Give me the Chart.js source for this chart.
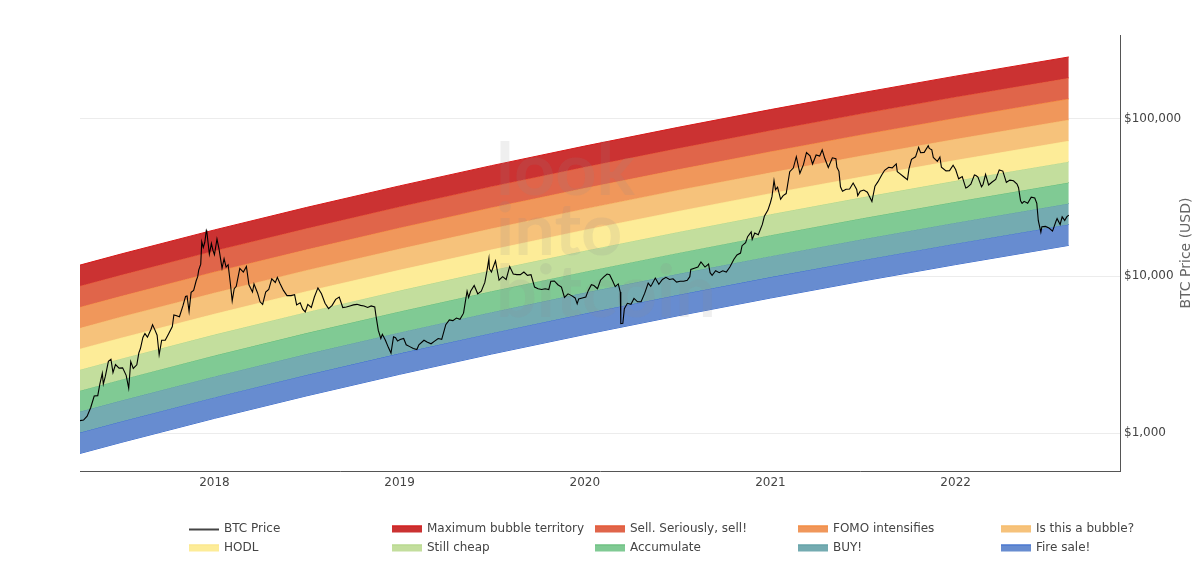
<!DOCTYPE html>
<html>
<head>
<meta charset="utf-8">
<script src="https://cdn.jsdelivr.net/npm/chart.js@4.4.1/dist/chart.umd.min.js"></script>
<style>
html,body{margin:0;padding:0;background:#fff;}
#wrap{width:1200px;height:575px;position:relative;}
</style>
</head>
<body>
<div id="wrap"><canvas id="c" width="1200" height="575"></canvas></div>
<script>
// ---------- data ----------
const bandDates = ['2017-04-11','2017-07-01','2018-01-01','2018-07-01','2019-01-01','2019-07-01','2020-01-01','2020-07-01','2021-01-01','2021-07-01','2022-01-01','2022-08-12'];

const bandLabels = ['Maximum bubble territory','Sell. Seriously, sell!','FOMO intensifies','Is this a bubble?','HODL','Still cheap','Accumulate','BUY!','Fire sale!'];

// upper edge of each band (USD)
const bandMaxBubble  = [11738, 13806, 19656, 27306, 37491, 50436, 67236, 88226, 114762, 147086, 187429, 248337];
const bandSell       = [8635, 10156, 14460, 20087, 27580, 37103, 49461, 64902, 84424, 108202, 137880, 182688];
const bandFomo       = [6352, 7471, 10637, 14777, 20289, 27294, 36386, 47745, 62106, 79599, 101431, 134393];
const bandBubble     = [4673, 5496, 7825, 10871, 14925, 20079, 26767, 35123, 45688, 58556, 74617, 98865];
const bandHodl       = [3438, 4043, 5757, 7997, 10980, 14771, 19691, 25838, 33610, 43076, 54891, 72729];
const bandCheap      = [2529, 2974, 4235, 5883, 8077, 10866, 14485, 19008, 24725, 31689, 40380, 53503];
const bandAccumulate = [1860, 2188, 3115, 4328, 5942, 7994, 10656, 13983, 18189, 23312, 29706, 39359];
const bandBuy        = [1369, 1610, 2292, 3184, 4371, 5880, 7839, 10286, 13380, 17149, 21853, 28954];
const bandFireSale   = [1007, 1184, 1686, 2342, 3216, 4326, 5767, 7567, 9843, 12615, 16076, 21300];
// lower edge of "Fire sale!"
const bandFloor      = [741, 871, 1240, 1723, 2366, 3182, 4242, 5567, 7241, 9281, 11826, 15669];

const priceDates = [
'2017-04-11','2017-04-18','2017-04-25','2017-05-02','2017-05-09','2017-05-16','2017-05-20','2017-05-25','2017-05-27','2017-05-31',
'2017-06-06','2017-06-11','2017-06-15','2017-06-20','2017-06-27','2017-07-04','2017-07-11','2017-07-16','2017-07-20','2017-07-25',
'2017-08-01','2017-08-05','2017-08-08','2017-08-13','2017-08-17','2017-08-22','2017-08-29','2017-09-01','2017-09-05','2017-09-10',
'2017-09-14','2017-09-19','2017-09-26','2017-10-03','2017-10-10','2017-10-13','2017-10-17','2017-10-24','2017-10-31','2017-11-05',
'2017-11-08','2017-11-12','2017-11-16','2017-11-21','2017-11-26','2017-11-29','2017-12-01','2017-12-05','2017-12-07','2017-12-10',
'2017-12-13','2017-12-16','2017-12-17','2017-12-22','2017-12-26','2017-12-29','2018-01-01','2018-01-06','2018-01-10','2018-01-16',
'2018-01-20','2018-01-24','2018-01-28','2018-02-01','2018-02-05','2018-02-09','2018-02-13','2018-02-20','2018-02-27','2018-03-05',
'2018-03-10','2018-03-17','2018-03-20','2018-03-27','2018-04-01','2018-04-06','2018-04-12','2018-04-18','2018-04-24','2018-05-01',
'2018-05-05','2018-05-10','2018-05-17','2018-05-24','2018-06-01','2018-06-08','2018-06-12','2018-06-19','2018-06-24','2018-06-29',
'2018-07-04','2018-07-11','2018-07-17','2018-07-24','2018-07-31','2018-08-07','2018-08-14','2018-08-21','2018-08-28','2018-09-04',
'2018-09-11','2018-09-18','2018-09-25','2018-10-02','2018-10-09','2018-10-16','2018-10-23','2018-10-30','2018-11-06','2018-11-13',
'2018-11-15','2018-11-20','2018-11-25','2018-11-28','2018-12-04','2018-12-10','2018-12-15','2018-12-20','2018-12-24','2018-12-28',
'2019-01-02','2019-01-09','2019-01-14','2019-01-21','2019-01-28','2019-02-04','2019-02-08','2019-02-18','2019-02-24','2019-03-04',
'2019-03-11','2019-03-18','2019-03-25','2019-04-02','2019-04-09','2019-04-16','2019-04-23','2019-04-30','2019-05-07','2019-05-11',
'2019-05-14','2019-05-17','2019-05-21','2019-05-28','2019-06-04','2019-06-11','2019-06-18','2019-06-22','2019-06-26','2019-06-27',
'2019-07-01','2019-07-09','2019-07-16','2019-07-23','2019-07-30','2019-08-06','2019-08-13','2019-08-20','2019-08-27','2019-09-03',
'2019-09-10','2019-09-17','2019-09-24','2019-10-01','2019-10-08','2019-10-15','2019-10-22','2019-10-26','2019-11-02','2019-11-09',
'2019-11-16','2019-11-22','2019-11-29','2019-12-06','2019-12-13','2019-12-17','2019-12-20','2019-12-27','2020-01-03','2020-01-08',
'2020-01-14','2020-01-19','2020-01-26','2020-02-01','2020-02-08','2020-02-14','2020-02-19','2020-02-25','2020-03-01','2020-03-07',
'2020-03-11','2020-03-12','2020-03-16','2020-03-19','2020-03-25','2020-04-01','2020-04-07','2020-04-14','2020-04-21','2020-04-28',
'2020-05-05','2020-05-10','2020-05-12','2020-05-19','2020-05-26','2020-06-02','2020-06-09','2020-06-16','2020-06-23','2020-06-30',
'2020-07-07','2020-07-14','2020-07-21','2020-07-26','2020-07-28','2020-08-04','2020-08-11','2020-08-17','2020-08-25','2020-09-01',
'2020-09-04','2020-09-08','2020-09-15','2020-09-22','2020-09-29','2020-10-06','2020-10-13','2020-10-21','2020-10-27','2020-11-03',
'2020-11-06','2020-11-13','2020-11-17','2020-11-24','2020-11-26','2020-12-01','2020-12-08','2020-12-16','2020-12-20','2020-12-27',
'2021-01-01','2021-01-04','2021-01-08','2021-01-11','2021-01-15','2021-01-21','2021-01-26','2021-02-01','2021-02-08','2021-02-15',
'2021-02-21','2021-02-28','2021-03-07','2021-03-13','2021-03-20','2021-03-25','2021-04-01','2021-04-08','2021-04-13','2021-04-18',
'2021-04-25','2021-05-03','2021-05-10','2021-05-12','2021-05-16','2021-05-19','2021-05-23','2021-05-30','2021-06-06','2021-06-13',
'2021-06-20','2021-06-22','2021-06-27','2021-07-04','2021-07-11','2021-07-20','2021-07-26','2021-08-01','2021-08-08','2021-08-14',
'2021-08-22','2021-08-29','2021-09-06','2021-09-08','2021-09-13','2021-09-20','2021-09-28','2021-10-01','2021-10-06','2021-10-14',
'2021-10-20','2021-10-24','2021-10-31','2021-11-08','2021-11-10','2021-11-15','2021-11-18','2021-11-26','2021-12-01','2021-12-04',
'2021-12-13','2021-12-20','2021-12-27','2022-01-01','2022-01-07','2022-01-14','2022-01-21','2022-01-24','2022-01-31','2022-02-07',
'2022-02-10','2022-02-14','2022-02-21','2022-02-24','2022-03-01','2022-03-07','2022-03-14','2022-03-21','2022-03-28','2022-04-04',
'2022-04-11','2022-04-18','2022-04-25','2022-05-02','2022-05-05','2022-05-09','2022-05-12','2022-05-16','2022-05-23','2022-05-30',
'2022-06-06','2022-06-10','2022-06-13','2022-06-18','2022-06-20','2022-06-27','2022-07-04','2022-07-11','2022-07-18','2022-07-20',
'2022-07-26','2022-07-30','2022-08-04','2022-08-08','2022-08-12'
];
const priceValues = [
1200,1210,1280,1450,1720,1730,2040,2400,2050,2300,
2860,2950,2430,2730,2590,2600,2330,1930,2850,2580,
2720,3240,3440,4060,4300,4080,4580,4900,4590,4200,
3150,3900,3900,4310,4760,5650,5600,5500,6470,7400,
7450,5950,7870,8100,9330,9900,10900,11900,16500,15200,
16400,19500,19140,13800,16100,14600,13650,17200,14900,11200,
12900,11400,11800,9200,6950,8300,8600,11200,10600,11500,
8800,7900,8900,7800,6850,6600,7900,8200,9600,9100,
9800,9000,8100,7500,7500,7600,6550,6750,6150,5900,
6600,6300,7350,8400,7700,6700,6200,6500,7100,7350,
6300,6350,6450,6550,6600,6500,6450,6300,6450,6350,
5700,4500,4000,4250,3900,3500,3230,4100,4050,3850,
3940,4000,3650,3550,3450,3400,3650,3900,3800,3700,
3850,4000,3950,4900,5250,5200,5400,5300,5800,7000,
8000,7300,8000,8700,7700,8000,9100,10700,12900,11100,
10600,12500,9400,9900,9500,11500,10300,10200,10200,10600,
10100,10200,8500,8300,8200,8300,8200,9250,9300,8800,
8500,7300,7700,7500,7250,6650,7150,7250,7350,8100,
8800,8700,8300,9400,9900,10300,10200,9300,8550,8900,
7900,4970,5000,6200,6700,6600,7200,6850,6850,7750,
9000,8600,8800,9700,8850,9500,9800,9500,9600,9150,
9250,9250,9400,9900,11000,11200,11400,12300,11400,11900,
10500,10100,10800,10500,10800,10600,11400,12800,13600,14000,
15600,16300,17800,19100,17100,18800,18300,21300,24000,26300,
29400,32000,40600,35500,36800,30800,32500,33500,46200,48700,
57500,45100,51200,61200,58300,51700,59000,58000,63500,56200,
49100,56600,55800,49200,46400,37000,34700,35700,35800,39100,
35600,32500,34700,35300,34200,29800,37300,39900,43800,47100,
49300,48800,51800,46100,44900,43000,41000,48100,55400,57400,
66000,61000,61300,67500,64900,63600,56900,53700,57200,49300,
46700,46900,50700,47700,41600,43000,36300,36700,38500,44000,
43600,42600,37000,38300,44400,38000,39700,41200,47400,46600,
39500,40800,40400,38500,36500,30100,29000,29900,29100,31800,
31400,29000,22500,19000,20600,20700,20200,19300,22400,23200,
21300,23800,22600,23800,24400
];

const yTickValues = [1000, 10000, 100000];
const xTickYears = [2018, 2019, 2020, 2021, 2022];
const xRange = ['2017-04-11', '2022-11-21'];
const yRange = [573, 342700];

// ---------- styles ----------
const bandFill = ['#CB3232','#E0654A','#F0975B','#F6C27B','#FDEC98','#C3DE9D','#80CA94','#74ABB1','#678CD0'];
const bandEdge = ['#D81818','#E8552F','#F68A3A','#F7BC68','#FCE68A','#B4D88A','#66BE7A','#5E9FA6','#3F6FCF'];
const floorEdge = '#3A6ACC';
const FONT = "'DejaVu Sans', Verdana, sans-serif";
const TEXT = '#444';

// ---------- helpers ----------
const toTs = s => { const p = s.split('-').map(Number); return Date.UTC(p[0], p[1] - 1, p[2]); };
const pts = (dates, vals) => dates.map((d, i) => ({ x: toTs(d), y: vals[i] }));

const bandTops = [bandMaxBubble, bandSell, bandFomo, bandBubble, bandHodl, bandCheap, bandAccumulate, bandBuy, bandFireSale];

const datasets = [{
  label: 'BTC Price', data: pts(priceDates, priceValues),
  borderColor: '#000', borderWidth: 1.1, pointRadius: 0, fill: false, tension: 0,
  legendKind: 'line', legendColor: '#444'
}];
bandTops.forEach((vals, i) => datasets.push({
  label: bandLabels[i], data: pts(bandDates, vals),
  borderColor: bandEdge[i], backgroundColor: bandFill[i], borderWidth: 1,
  pointRadius: 0, fill: '+1', tension: 0, legendKind: 'box'
}));
datasets.push({
  label: '_floor', data: pts(bandDates, bandFloor),
  borderColor: floorEdge, borderWidth: 1, pointRadius: 0, fill: false, tension: 0
});

// ---------- custom drawing ----------
const extras = {
  id: 'extras',
  beforeDatasetDraw(chart, args) {
    if (args.index !== 0) return;
    const { ctx, chartArea } = chart;
    ctx.save();
    ctx.beginPath();
    ctx.rect(chartArea.left, chartArea.top, chartArea.right - chartArea.left, chartArea.bottom - chartArea.top);
    ctx.clip();
    ctx.font = "bold 72px Lato, 'DejaVu Sans', sans-serif";
    ctx.textAlign = 'left';
    ctx.textBaseline = 'alphabetic';
    ctx.fillStyle = 'rgba(140,140,140,0.14)';
    const wx = chartArea.left + 416;
    ctx.fillText('look', wx, chartArea.top + 160);
    ctx.fillText('into', wx, chartArea.top + 220);
    ctx.fillText('bitcoin', wx, chartArea.top + 282);
    ctx.restore();
  },
  afterDraw(chart) {
    const { ctx, chartArea } = chart;
    // y-axis title (reads bottom to top)
    ctx.save();
    ctx.translate(1186, (chartArea.top + chartArea.bottom) / 2);
    ctx.rotate(-Math.PI / 2);
    ctx.font = '14px ' + FONT;
    ctx.fillStyle = '#666';
    ctx.textAlign = 'center';
    ctx.textBaseline = 'middle';
    ctx.fillText('BTC Price (USD)', 0, 0);
    ctx.restore();

    // legend grid: 5 columns x 2 rows
    const items = chart.data.datasets.filter(d => d.legendKind);
    const colX0 = 189, colW = 203, rowY0 = 529, rowH = 19, boxW = 30, boxH = 7;
    ctx.save();
    ctx.font = '12px ' + FONT;
    ctx.textBaseline = 'middle';
    ctx.textAlign = 'left';
    items.forEach((d, i) => {
      const col = i % 5, row = Math.floor(i / 5);
      const x = colX0 + col * colW, y = rowY0 + row * rowH;
      if (d.legendKind === 'line') {
        ctx.strokeStyle = d.legendColor;
        ctx.lineWidth = 2;
        ctx.beginPath();
        ctx.moveTo(x, y + 0.5);
        ctx.lineTo(x + boxW, y + 0.5);
        ctx.stroke();
      } else {
        ctx.fillStyle = d.backgroundColor;
        ctx.fillRect(x, y - boxH / 2, boxW, boxH);
        ctx.fillStyle = d.borderColor;
        ctx.fillRect(x, y - boxH / 2, boxW, 1);
      }
      ctx.fillStyle = TEXT;
      ctx.fillText(d.label, x + boxW + 5, y);
    });
    ctx.restore();
  }
};

Chart.defaults.font.family = FONT;
Chart.defaults.font.size = 12;
Chart.defaults.color = TEXT;

new Chart(document.getElementById('c'), {
  type: 'line',
  data: { datasets },
  options: {
    responsive: false,
    animation: false,
    devicePixelRatio: 1,
    layout: { padding: { left: 80, top: 35, right: 0, bottom: 0 } },
    plugins: { legend: { display: false }, tooltip: { enabled: false }, filler: { propagate: false } },
    scales: {
      x: {
        type: 'linear',
        min: toTs(xRange[0]), max: toTs(xRange[1]),
        grid: { color: 'rgba(0,0,0,0)', drawTicks: false },
        border: { display: true, color: '#555', width: 1 },
        afterBuildTicks: s => { s.ticks = xTickYears.map(y => ({ value: Date.UTC(y, 0, 1) })); },
        afterFit: s => { s.height = 104; },
        ticks: {
          autoSkip: false, maxRotation: 0, padding: 5, color: TEXT,
          font: { size: 12, family: FONT },
          callback: v => String(new Date(v).getUTCFullYear())
        }
      },
      y: {
        type: 'logarithmic',
        position: 'right',
        min: yRange[0], max: yRange[1],
        grid: { color: '#ececec', lineWidth: 1, drawTicks: false },
        border: { display: true, color: '#555', width: 1 },
        afterBuildTicks: s => { s.ticks = yTickValues.map(v => ({ value: v })); },
        afterFit: s => { s.width = 80; },
        ticks: {
          padding: 4, color: TEXT,
          font: { size: 12, family: FONT },
          callback: v => '$' + Number(v).toLocaleString('en-US')
        }
      }
    }
  },
  plugins: [extras]
});
</script>
</body>
</html>
